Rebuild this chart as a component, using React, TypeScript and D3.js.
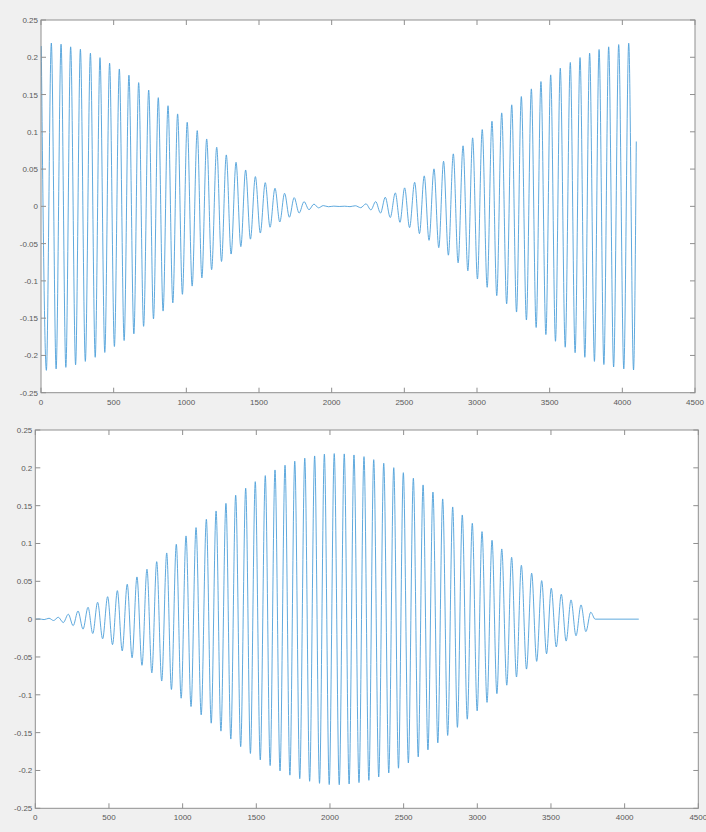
import * as d3 from 'd3';

// tick values shared by both panels
const xTicks = [0, 500, 1000, 1500, 2000, 2500, 3000, 3500, 4000, 4500];
const yTicks = [-0.25, -0.2, -0.15, -0.1, -0.05, 0, 0.05, 0.1, 0.15, 0.2, 0.25];

// top panel: positive peaks (sample index, value)
const topPeakX = [2, 71, 138, 204, 271, 340, 406, 472, 539, 605, 672, 741, 807, 874, 940, 1006, 1075, 1140, 1209, 1275, 1342, 1408, 1475, 1543, 1610, 1676, 1742, 1810, 1878, 1942, 2015, 2090, 2163, 2236, 2303, 2369, 2438, 2502, 2571, 2637, 2704, 2770, 2837, 2904, 2970, 3036, 3103, 3170, 3239, 3305, 3374, 3440, 3507, 3573, 3642, 3709, 3775, 3840, 3906, 3975, 4044];
const topPeakY = [0.215, 0.219, 0.2175, 0.214, 0.2107, 0.2054, 0.1995, 0.192, 0.1843, 0.1759, 0.166, 0.156, 0.1458, 0.135, 0.124, 0.1128, 0.1016, 0.0904, 0.0793, 0.069, 0.0591, 0.0488, 0.0399, 0.0318, 0.0243, 0.0175, 0.0117, 0.0063, 0.003, 0.001, 0.0003, 0.0002, 0.0008, 0.0034, 0.0064, 0.0122, 0.018, 0.0248, 0.0323, 0.0409, 0.0503, 0.0605, 0.0704, 0.0812, 0.0919, 0.103, 0.1142, 0.1254, 0.1362, 0.1473, 0.1576, 0.1674, 0.1764, 0.1853, 0.193, 0.1996, 0.2054, 0.2104, 0.214, 0.217, 0.2188];
// top panel: troughs (sample index, depth below zero)
const topTroughX = [37, 104, 171, 238, 305, 373, 439, 505, 572, 639, 706, 774, 840, 907, 973, 1040, 1107, 1174, 1242, 1308, 1375, 1441, 1509, 1576, 1643, 1709, 1776, 1844, 1910, 1978, 2052, 2126, 2200, 2270, 2336, 2403, 2470, 2536, 2604, 2670, 2737, 2803, 2870, 2937, 3003, 3070, 3136, 3204, 3272, 3340, 3407, 3474, 3540, 3607, 3675, 3742, 3808, 3873, 3940, 4010, 4077];
const topTroughY = [0.22, 0.218, 0.216, 0.2125, 0.208, 0.2025, 0.196, 0.188, 0.18, 0.171, 0.161, 0.151, 0.1405, 0.1295, 0.118, 0.107, 0.096, 0.085, 0.074, 0.064, 0.054, 0.044, 0.0358, 0.028, 0.021, 0.0146, 0.009, 0.0045, 0.002, 0.0005, 0.0002, 0.0004, 0.0018, 0.0048, 0.009, 0.015, 0.0214, 0.0285, 0.0366, 0.0456, 0.0554, 0.0655, 0.0758, 0.0865, 0.0975, 0.1086, 0.1198, 0.1308, 0.1418, 0.1525, 0.1625, 0.172, 0.181, 0.189, 0.1963, 0.2025, 0.208, 0.2122, 0.2155, 0.218, 0.2195];
const topEnds: [number, number][] = [[4096, 0.087]];

// bottom panel
const botPeakX = [26, 93, 156, 224, 290, 358, 423, 491, 557, 624, 690, 758, 824, 892, 957, 1023, 1091, 1161, 1227, 1294, 1360, 1428, 1493, 1561, 1627, 1695, 1761, 1829, 1896, 1962, 2029, 2097, 2163, 2231, 2297, 2365, 2433, 2498, 2566, 2632, 2699, 2765, 2833, 2898, 2966, 3032, 3100, 3166, 3233, 3299, 3369, 3437, 3502, 3570, 3636, 3704, 3770];
const botPeakY = [0.0003, 0.0012, 0.0025, 0.0065, 0.0108, 0.0157, 0.0223, 0.0297, 0.0377, 0.0461, 0.0558, 0.066, 0.076, 0.0875, 0.099, 0.11, 0.121, 0.132, 0.143, 0.153, 0.1638, 0.173, 0.1817, 0.1897, 0.1972, 0.2034, 0.2087, 0.2127, 0.2157, 0.218, 0.2188, 0.2184, 0.217, 0.2148, 0.2108, 0.206, 0.2002, 0.1936, 0.1862, 0.1774, 0.168, 0.1589, 0.1483, 0.1377, 0.1267, 0.1157, 0.1043, 0.0928, 0.0818, 0.0712, 0.0607, 0.0509, 0.0408, 0.0329, 0.0254, 0.0188, 0.0091];
const botTroughX = [60, 124, 190, 257, 324, 390, 457, 524, 590, 657, 724, 791, 858, 924, 990, 1057, 1126, 1194, 1260, 1327, 1394, 1460, 1527, 1594, 1661, 1728, 1795, 1862, 1929, 1995, 2063, 2130, 2197, 2264, 2331, 2399, 2465, 2532, 2599, 2665, 2732, 2799, 2865, 2932, 2999, 3066, 3133, 3200, 3266, 3334, 3403, 3470, 3536, 3603, 3670, 3737];
const botTroughY = [0.0006, 0.0018, 0.0045, 0.0086, 0.0132, 0.019, 0.026, 0.0337, 0.042, 0.051, 0.061, 0.071, 0.0818, 0.093, 0.1045, 0.1155, 0.1265, 0.1375, 0.148, 0.1585, 0.1685, 0.1775, 0.186, 0.1935, 0.2005, 0.2062, 0.2108, 0.2143, 0.217, 0.2186, 0.2188, 0.2178, 0.216, 0.213, 0.2085, 0.2032, 0.197, 0.19, 0.182, 0.1728, 0.1635, 0.1537, 0.143, 0.1322, 0.1212, 0.11, 0.0985, 0.0873, 0.0765, 0.066, 0.0558, 0.0458, 0.0368, 0.029, 0.022, 0.0165];
const botEnds: [number, number][] = [[1, 0], [3800, 0], [4096, 0]];

function buildSeries(px: number[], py: number[], tx: number[], ty: number[], ends: [number, number][]) {
  const pts: [number, number][] = [
    ...px.map((x, i) => [x, py[i]] as [number, number]),
    ...tx.map((x, i) => [x, -ty[i]] as [number, number]),
    ...ends,
  ];
  return pts.sort((a, b) => a[0] - b[0]);
}

interface PanelProps {
  box: { left: number; right: number; top: number; bottom: number };
  points: [number, number][];
}

function Panel({ box, points }: PanelProps) {
  const x = d3.scaleLinear().domain([0, 4500]).range([box.left, box.right]);
  const y = d3.scaleLinear().domain([-0.25, 0.25]).range([box.bottom, box.top]);
  const line = d3.line<[number, number]>()
    .x((d) => x(d[0]))
    .y((d) => y(d[1]))
    .curve(d3.curveMonotoneX);
  const tl = 5;
  const axisCol = '#8f8f8f';

  return (
    <g>
      <rect x={box.left} y={box.top} width={box.right - box.left} height={box.bottom - box.top} fill="#fff" />
      <path d={line(points) ?? ''} fill="none" stroke="#4d9fd9" strokeWidth={0.9} />
      <rect x={box.left} y={box.top} width={box.right - box.left} height={box.bottom - box.top}
        fill="none" stroke={axisCol} strokeWidth={1} />
      {xTicks.map((t) => (
        <g key={'x' + t}>
          <line x1={x(t)} x2={x(t)} y1={box.bottom} y2={box.bottom - tl} stroke={axisCol} />
          <line x1={x(t)} x2={x(t)} y1={box.top} y2={box.top + tl} stroke={axisCol} />
          <text x={x(t)} y={box.bottom + 12} textAnchor="middle" fontSize={8}
            fontFamily="'Liberation Sans', Arial, sans-serif" fill="#595959">{t}</text>
        </g>
      ))}
      {yTicks.map((t) => (
        <g key={'y' + t}>
          <line x1={box.left} x2={box.left + tl} y1={y(t)} y2={y(t)} stroke={axisCol} />
          <line x1={box.right} x2={box.right - tl} y1={y(t)} y2={y(t)} stroke={axisCol} />
          <text x={box.left - 3} y={y(t) + 3} textAnchor="end" fontSize={8}
            fontFamily="'Liberation Sans', Arial, sans-serif" fill="#595959">{String(t)}</text>
        </g>
      ))}
    </g>
  );
}

export default function App() {
  const topPts = buildSeries(topPeakX, topPeakY, topTroughX, topTroughY, topEnds);
  const botPts = buildSeries(botPeakX, botPeakY, botTroughX, botTroughY, botEnds);

  return (
    <svg width={706} height={832} style={{ position: 'absolute', left: 0, top: 0 }}>
      <rect width={706} height={832} fill="#f0f0f0" />
      <Panel box={{ left: 41, right: 695, top: 20, bottom: 392.7 }} points={topPts} />
      <Panel box={{ left: 35.3, right: 698.3, top: 430, bottom: 808.3 }} points={botPts} />
    </svg>
  );
}
